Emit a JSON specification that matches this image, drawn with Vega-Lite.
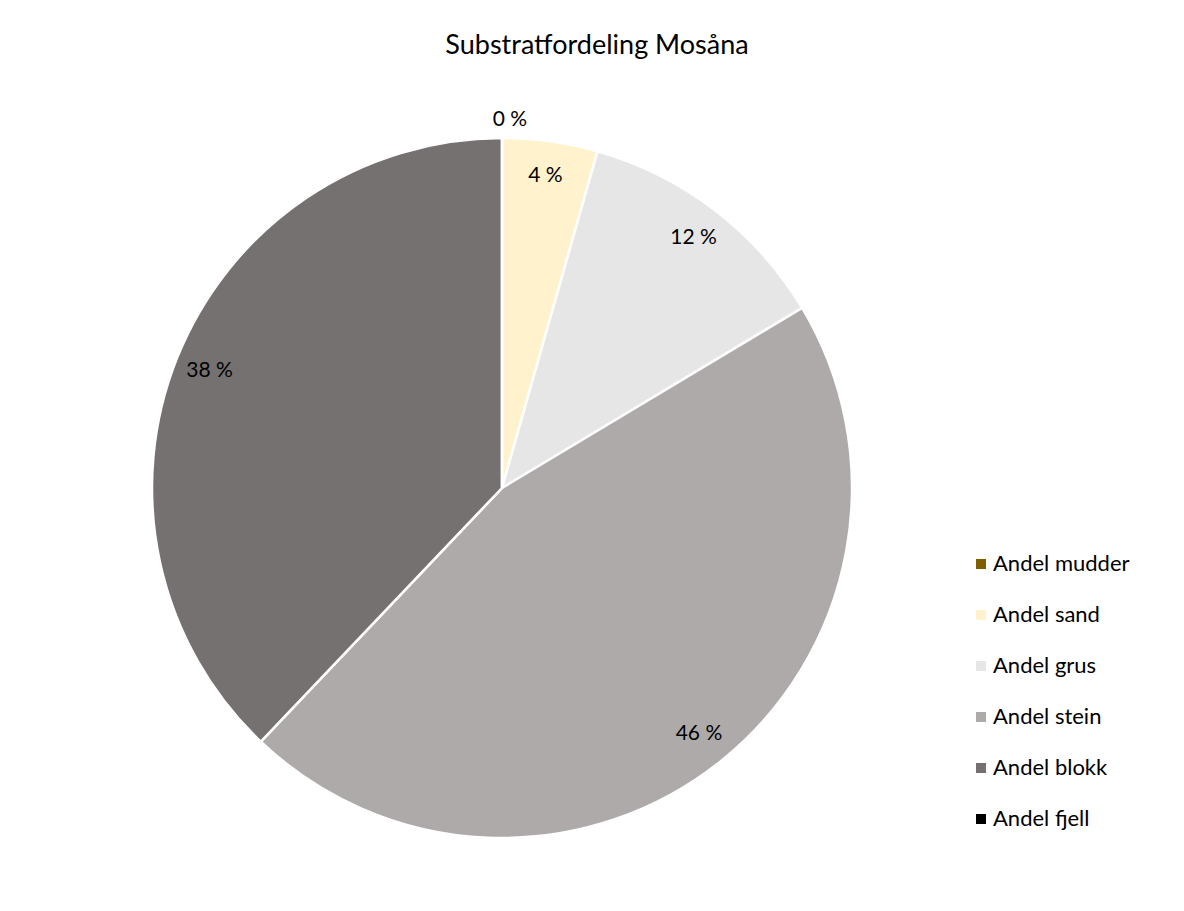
{
  "$schema": "https://vega.github.io/schema/vega-lite/v6.json",
  "autosize": "none",
  "width": 988,
  "height": 760,
  "padding": {"left": 8, "top": 108, "right": 188, "bottom": 43},
  "background": "white",
  "config": {"view": {"stroke": null}, "font": "Lato"},
  "title": {
    "text": "Substratfordeling Mosåna",
    "fontSize": 27,
    "font": "Lato",
    "fontWeight": "normal",
    "color": "#000000",
    "anchor": "middle",
    "dx": 95,
    "offset": 48
  },
  "data": {
    "values": [
      {"kategori": "Andel mudder", "andel": 0, "idx": 1, "etikett": "0 %"},
      {"kategori": "Andel sand", "andel": 4.4, "idx": 2, "etikett": "4 %"},
      {"kategori": "Andel grus", "andel": 12.0, "idx": 3, "etikett": "12 %"},
      {"kategori": "Andel stein", "andel": 45.7, "idx": 4, "etikett": "46 %"},
      {"kategori": "Andel blokk", "andel": 37.9, "idx": 5, "etikett": "38 %"},
      {"kategori": "Andel fjell", "andel": 0, "idx": 6, "etikett": ""}
    ]
  },
  "encoding": {
    "theta": {"field": "andel", "type": "quantitative", "stack": true},
    "order": {"field": "idx", "type": "quantitative"}
  },
  "layer": [
    {
      "mark": {"type": "arc", "outerRadius": 350, "stroke": "white", "strokeWidth": 2.5},
      "encoding": {
        "color": {
          "field": "kategori",
          "type": "nominal",
          "sort": null,
          "scale": {
            "domain": ["Andel mudder", "Andel sand", "Andel grus", "Andel stein", "Andel blokk", "Andel fjell"],
            "range": ["#7F6000", "#FFF2CC", "#E7E6E6", "#AEAAAA", "#767171", "#000000"]
          },
          "legend": {
            "title": null,
            "orient": "none",
            "legendX": 962,
            "legendY": 445,
            "padding": 0,
            "symbolType": "square",
            "symbolSize": 100,
            "symbolStrokeWidth": 0,
            "labelFontSize": 22,
            "labelFont": "Lato",
            "labelColor": "#000000",
            "labelOffset": 1,
            "rowPadding": 29,
            "labelLimit": 300
          }
        }
      }
    },
    {
      "transform": [{"filter": "datum.idx > 1 && datum.idx < 6"}],
      "mark": {"type": "text", "radius": 315, "fontSize": 21, "font": "Lato", "color": "#000000"},
      "encoding": {"text": {"field": "etikett"}}
    },
    {
      "transform": [{"filter": "datum.idx == 1"}],
      "mark": {"type": "text", "radius": 368, "fontSize": 21, "font": "Lato", "color": "#000000", "dx": 8},
      "encoding": {"text": {"field": "etikett"}}
    }
  ]
}
